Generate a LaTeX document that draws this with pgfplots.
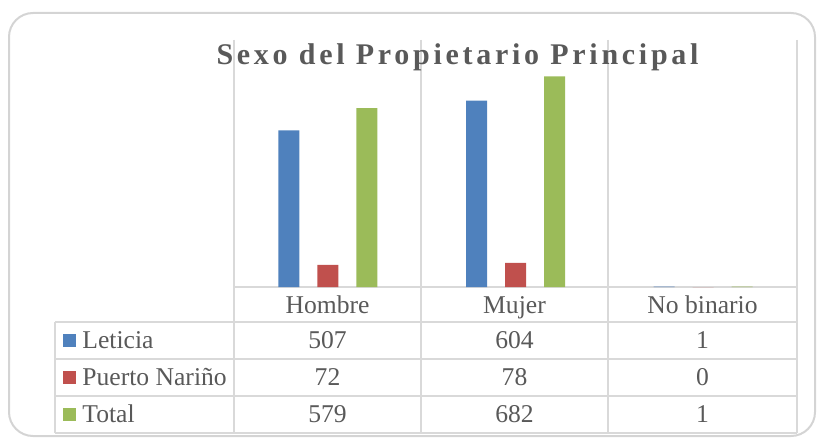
\documentclass[border=0pt]{standalone}
\usepackage{pgfplots}
\pgfplotsset{compat=1.18}
\usepackage{fontspec}
\setmainfont{Liberation Serif}
\definecolor{txt}{HTML}{595959}
\definecolor{gridc}{HTML}{D9D9D9}
\definecolor{framec}{HTML}{D4D4D4}
\definecolor{cblue}{HTML}{4F81BD}
\definecolor{cred}{HTML}{C0504D}
\definecolor{cgreen}{HTML}{9BBB59}
\begin{document}
\begin{tikzpicture}
\begin{scope}[x=0.5pt,y=-0.5pt]
\path[use as bounding box] (0,0) rectangle (817,438);
\draw[framec, line width=1pt, rounded corners=12pt] (9,13) rectangle (815,436);
% grid and table lines
\foreach \xx in {234,421,608,797} \draw[gridc, line width=0.75pt] (\xx,40) -- (\xx,433);
\draw[gridc, line width=0.75pt] (234,287) -- (797,287);
\foreach \yy in {322,359,396,433} \draw[gridc,line width=0.75pt] (55,\yy) -- (797,\yy);
\draw[gridc,line width=0.75pt] (55,322) -- (55,433);
% title
\node[anchor=base, text=txt, font=\fontsize{15pt}{18pt}\selectfont\bfseries\addfontfeature{LetterSpace=12.4}] at (457.5,65) {Sexo del Propietario Principal};
% table text
\tikzset{tt/.style={text=txt, font=\fontsize{12.8pt}{15pt}\selectfont, inner sep=0pt}}
\node[tt,anchor=base] at (327.5,313) {Hombre};
\node[tt,anchor=base] at (514.5,313) {Mujer};
\node[tt,anchor=base] at (702.5,313) {No binario};
\fill[cblue] (63,334) rectangle (76,347);
\fill[cred] (63,371) rectangle (76,384);
\fill[cgreen] (63,408) rectangle (76,421);
\node[tt,anchor=base west] at (82,348.5) {Leticia};
\node[tt,anchor=base west] at (82,385.5) {Puerto Nariño};
\node[tt,anchor=base west] at (82,422.5) {Total};
\node[tt,anchor=base] at (327.5,348.5) {507};
\node[tt,anchor=base] at (514.5,348.5) {604};
\node[tt,anchor=base] at (702.5,348.5) {1};
\node[tt,anchor=base] at (327.5,385.5) {72};
\node[tt,anchor=base] at (514.5,385.5) {78};
\node[tt,anchor=base] at (702.5,385.5) {0};
\node[tt,anchor=base] at (327.5,422.5) {579};
\node[tt,anchor=base] at (514.5,422.5) {682};
\node[tt,anchor=base] at (702.5,422.5) {1};
\end{scope}
\begin{axis}[at={(117pt,-143.5pt)}, anchor=south west, scale only axis,
  width=281.5pt, height=123.5pt, xmin=0, xmax=3, ymin=0, ymax=800,
  hide axis, ybar, bar width=10.5pt, clip=false]
\addplot[fill=cblue, draw=none, bar shift=-19.5pt] coordinates {(0.5,507) (1.5,604) (2.5,1)};
\addplot[fill=cred, draw=none, bar shift=0pt] coordinates {(0.5,72) (1.5,78) (2.5,0)};
\addplot[fill=cgreen, draw=none, bar shift=19.5pt] coordinates {(0.5,579) (1.5,682) (2.5,1)};
\end{axis}
\end{tikzpicture}
\end{document}
